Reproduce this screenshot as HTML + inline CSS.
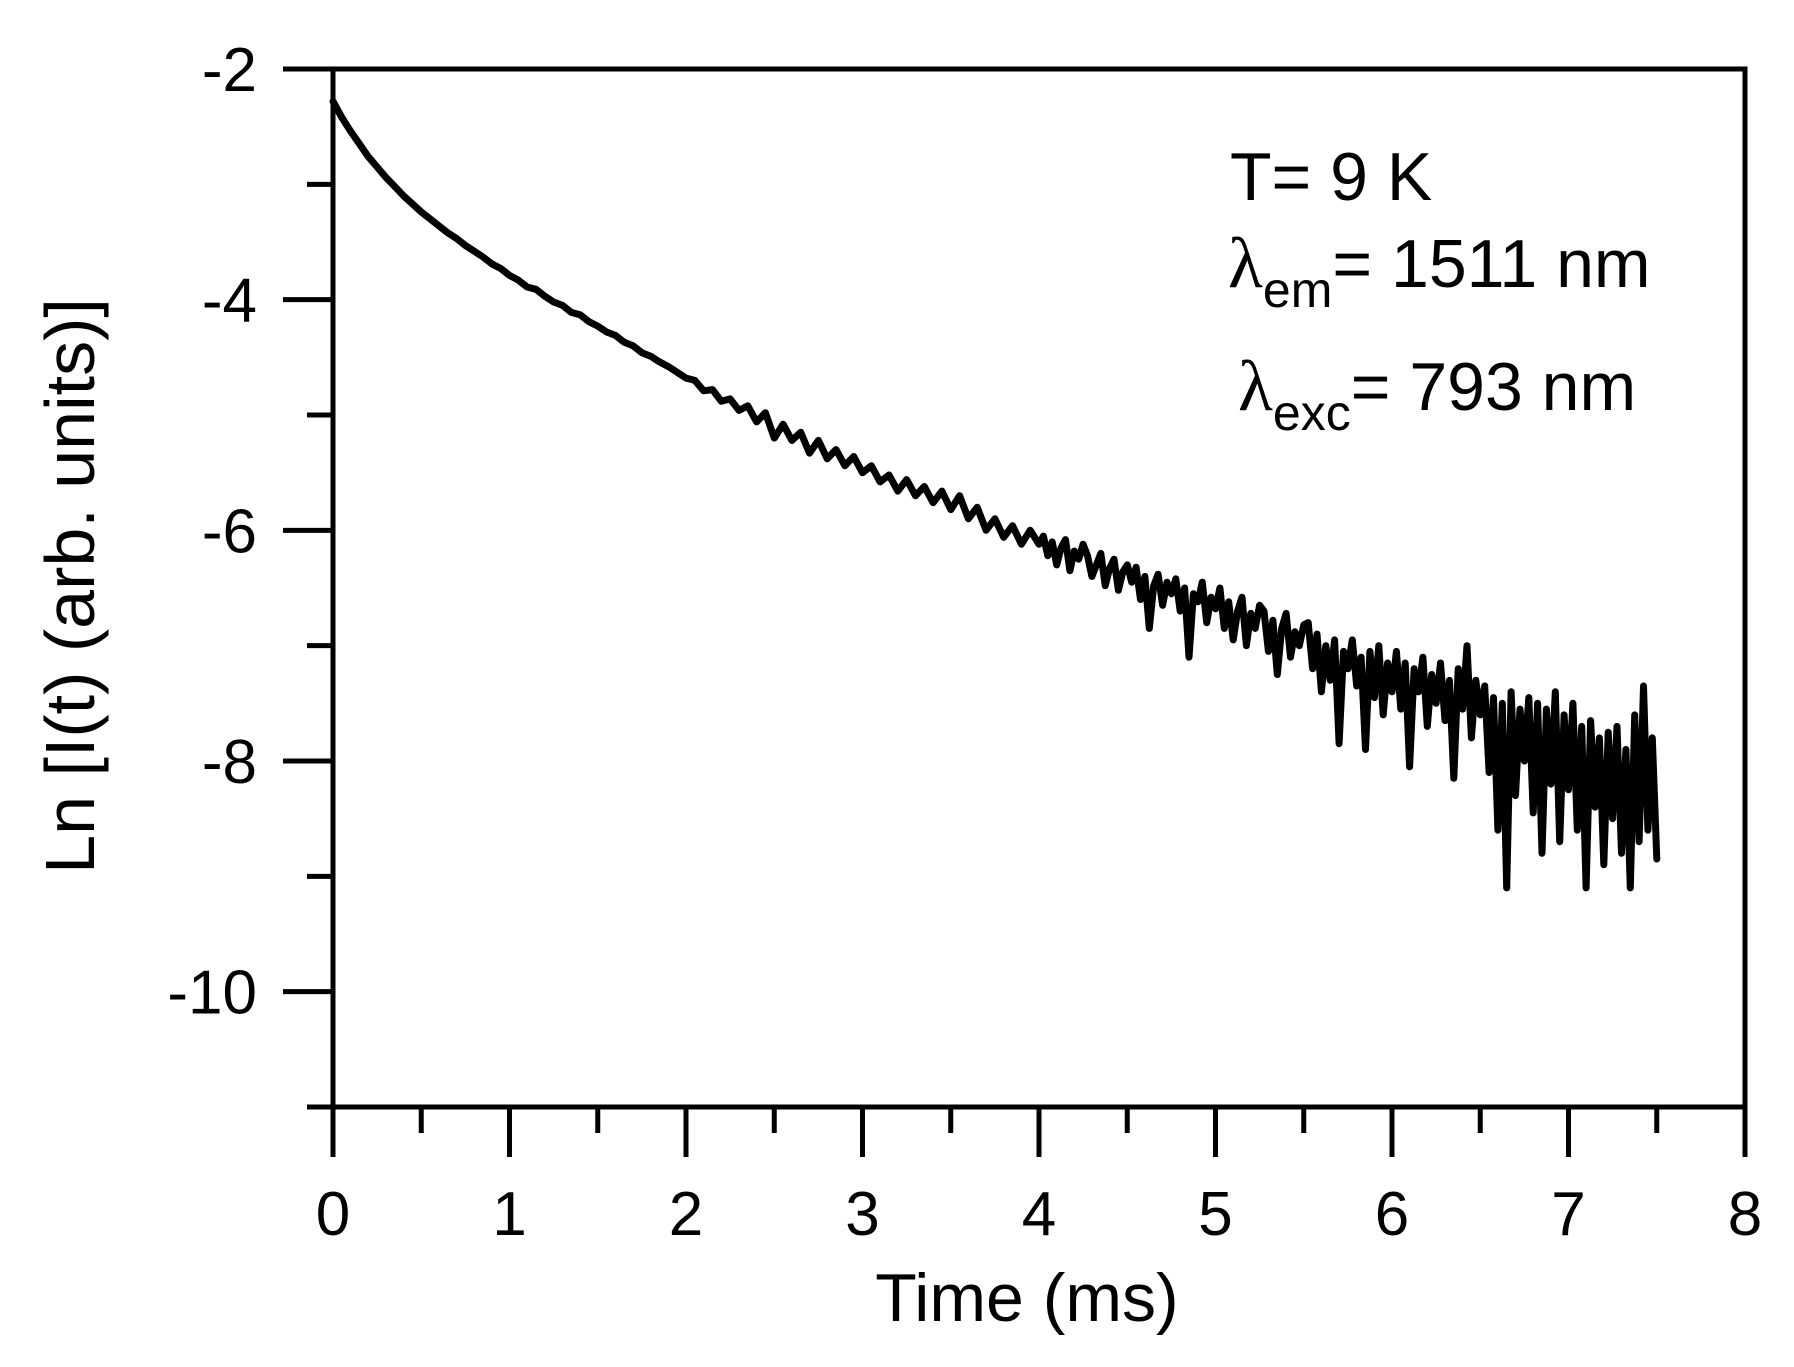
<!DOCTYPE html>
<html><head><meta charset="utf-8"><style>body{margin:0;background:#fff}svg{display:block}</style></head>
<body>
<svg id="chart" width="1794" height="1367" viewBox="0 0 1794 1367" xmlns="http://www.w3.org/2000/svg" font-family="Liberation Sans, sans-serif">
<rect width="1794" height="1367" fill="#fff"/>
<g id="axes"></g>
<path id="curve" fill="none" stroke="#000" stroke-width="7" stroke-linejoin="round" stroke-linecap="round"/>
<text x="1230" y="200" font-size="68">T= 9 K</text>
<text x="1228" y="287" font-size="68"><tspan font-family="Liberation Serif, serif" font-size="72">λ</tspan><tspan font-size="50" dy="20">em</tspan><tspan dy="-20">= 1511 nm</tspan></text>
<text x="1238" y="410" font-size="68"><tspan font-family="Liberation Serif, serif" font-size="72">λ</tspan><tspan font-size="50" dy="20">exc</tspan><tspan dy="-20">= 793 nm</tspan></text>
<text x="1027" y="1321" font-size="68" text-anchor="middle">Time (ms)</text>
<text transform="translate(94,586) rotate(-90)" font-size="70" text-anchor="middle">Ln [I(t) (arb. units)]</text>
</svg>
<script>
const dtEarly = 0.05;
const earlyValues = [-2.28,-2.42,-2.54,-2.65,-2.76,-2.85,-2.94,-3.02,-3.10,-3.17,-3.24,
-3.30,-3.36,-3.42,-3.47,-3.53,-3.58,-3.63,-3.69,-3.73,-3.79,
-3.83,-3.89,-3.91,-3.97,-4.02,-4.05,-4.11,-4.13,-4.19,-4.23,
-4.28,-4.31,-4.37,-4.40,-4.46,-4.49,-4.54,-4.58,-4.63,-4.68,
-4.70,-4.79,-4.78,-4.88,-4.86,-4.96,-4.92,-5.06,-4.98,-5.20,
-5.08,-5.22,-5.15,-5.33,-5.22,-5.38,-5.30,-5.44,-5.36,-5.50,
-5.44,-5.58,-5.52,-5.66,-5.56,-5.70,-5.62,-5.76,-5.66,-5.82,
-5.70,-5.90,-5.80,-6.00,-5.90,-6.06,-5.96,-6.12,-6.00,-6.12];
const lateStart = 4.0;
const dtLate = 0.025;
const lateValues = [
-6.05,-6.22,-6.10,-6.30,-6.15,-6.08,-6.35,-6.18,-6.25,-6.12,
-6.22,-6.40,-6.30,-6.20,-6.48,-6.33,-6.25,-6.52,-6.36,-6.30,
-6.45,-6.32,-6.60,-6.40,-6.85,-6.48,-6.38,-6.65,-6.45,-6.55,
-6.42,-6.70,-6.50,-7.10,-6.55,-6.62,-6.45,-6.80,-6.58,-6.68,
-6.50,-6.85,-6.62,-6.95,-6.70,-6.58,-7.00,-6.72,-6.85,-6.65,
-6.70,-7.05,-6.78,-7.25,-6.85,-6.72,-7.10,-6.88,-7.00,-6.82,
-6.80,-7.20,-6.90,-7.40,-7.00,-7.30,-6.95,-7.85,-7.05,-7.20,
-6.95,-7.35,-7.10,-7.90,-7.05,-7.45,-7.00,-7.60,-7.15,-7.40,
-7.05,-7.55,-7.15,-8.05,-7.20,-7.40,-7.10,-7.70,-7.25,-7.50,
-7.15,-7.65,-7.30,-8.15,-7.20,-7.55,-7.00,-7.80,-7.30,-7.60,
-7.35,-8.10,-7.45,-8.60,-7.50,-9.10,-7.40,-8.30,-7.55,-8.00,
-7.45,-8.45,-7.50,-8.80,-7.55,-8.20,-7.40,-8.70,-7.60,-8.25,
-7.50,-8.60,-7.70,-9.10,-7.65,-8.40,-7.80,-8.90,-7.75,-8.50,
-7.70,-8.80,-7.90,-9.10,-7.60,-8.70,-7.35,-8.60,-7.80,-8.85];
const xTicks = [0,1,2,3,4,5,6,7,8];
const yTicks = [-2,-4,-6,-8,-10];
const xMin=0,xMax=8,yMin=-11,yMax=-2;
const L=333,R=1745,T=69,B=1107;
const sx=v=>L+(v-xMin)/(xMax-xMin)*(R-L);
const sy=v=>B-(v-yMin)/(yMax-yMin)*(B-T);
const NS='http://www.w3.org/2000/svg';
const ax=document.getElementById('axes');
function mk(tag,attrs,parent){const e=document.createElementNS(NS,tag);for(const k in attrs)e.setAttribute(k,attrs[k]);(parent||ax).appendChild(e);return e;}
const frame=mk('rect',{x:L,y:T,width:R-L,height:B-T,fill:'none',stroke:'#000','stroke-width':5});


for(let v=xMin;v<=xMax+1e-9;v+=0.5){
  const major=Math.abs(v-Math.round(v))<1e-9;
  const t=mk('line',{x1:sx(v),x2:sx(v),y1:B,y2:B+(major?50:26),stroke:'#000','stroke-width':5});
  
  
}
xTicks.forEach(v=>{const t=mk('text',{x:sx(v),y:1235,'font-size':62,'text-anchor':'middle'});t.textContent=v;
  
  });
for(let v=yMax;v>=yMin-1e-9;v-=1){
  const major=Math.abs(v%2)<1e-9;
  const t=mk('line',{x1:L-(major?50:26),x2:L,y1:sy(v),y2:sy(v),stroke:'#000','stroke-width':5});
  
  
}
yTicks.forEach(v=>{const t=mk('text',{x:257,y:sy(v)+22,'font-size':62,'text-anchor':'end'});t.textContent=v;
  
  });
const pts=[];
earlyValues.forEach((v,i)=>pts.push([i*dtEarly,v]));
lateValues.forEach((v,i)=>pts.push([lateStart+(i+1)*dtLate,v]));
document.getElementById('curve').setAttribute('d',pts.map((p,i)=>(i?'L':'M')+sx(p[0]).toFixed(1)+' '+sy(p[1]).toFixed(1)).join(' '));
</script>
</body></html>
